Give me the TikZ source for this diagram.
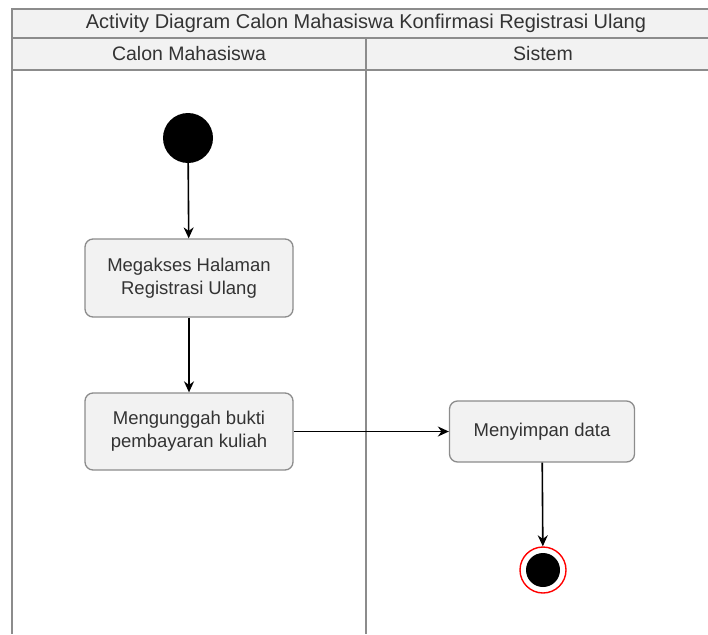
\documentclass[tikz,border=0pt]{standalone}
\usepackage{fontspec}
\setmainfont{Liberation Sans}
\usetikzlibrary{arrows.meta}

\definecolor{lanegray}{HTML}{8C8C8C}
\definecolor{headfill}{HTML}{F2F2F2}
\definecolor{textgray}{HTML}{333333}

\tikzset{
  activity/.style={rectangle, rounded corners=8pt, draw=lanegray, line width=1.3pt,
    fill=headfill, text=textgray, align=center, font=\fontsize{18.5}{23}\selectfont},
  lanetitle/.style={text=textgray, font=\fontsize{19.5}{22}\selectfont},
  flow/.style={draw=black, line width=1.6pt, -{Stealth[length=11pt,width=10pt]}}
}

\begin{document}
\begin{tikzpicture}[x=1pt, y=-1pt]
\useasboundingbox (0,0) rectangle (708,634);

% swimlanes
\fill[headfill] (12,9) rectangle (708,70);
\draw[lanegray, line width=1.6pt] (708,9) -- (12,9) -- (12,634);
\draw[lanegray, line width=1.6pt] (12,38) -- (708,38);
\draw[lanegray, line width=1.6pt] (12,70) -- (708,70);
\draw[lanegray, line width=1.8pt] (366,38) -- (366,634);

\node (title) at (366,23.5) [lanetitle, font=\fontsize{20}{22}\selectfont] {Activity Diagram Calon Mahasiswa Konfirmasi Registrasi Ulang};
\node (calon) at (189,54) [lanetitle] {Calon Mahasiswa};
\node (sistem) at (543,54) [lanetitle] {Sistem};

% activities
\node (start) at (188,138) [circle, fill=black, minimum size=50pt, inner sep=0pt] {};
\node (akses) at (189,278) [activity, minimum width=208pt, minimum height=78pt] {Megakses Halaman\\Registrasi Ulang};
\node (unggah) at (189,431.5) [activity, minimum width=208pt, minimum height=77pt] {Mengunggah bukti\\pembayaran kuliah};
\node (simpan) at (542,431.5) [activity, minimum width=185pt, minimum height=61pt] {Menyimpan data};
\node (stop) at (543,570) [circle, draw=red, line width=1.4pt, fill=white, minimum size=46pt, inner sep=0pt] {};
\node (stopdot) at (543,570) [circle, fill=black, minimum size=34pt, inner sep=0pt] {};

\draw[flow] (start) -- (akses);
\draw[flow] (akses) -- (unggah);
\draw[flow] (unggah) -- (simpan);
\draw[flow] (simpan) -- (stop);
\end{tikzpicture}
\end{document}
